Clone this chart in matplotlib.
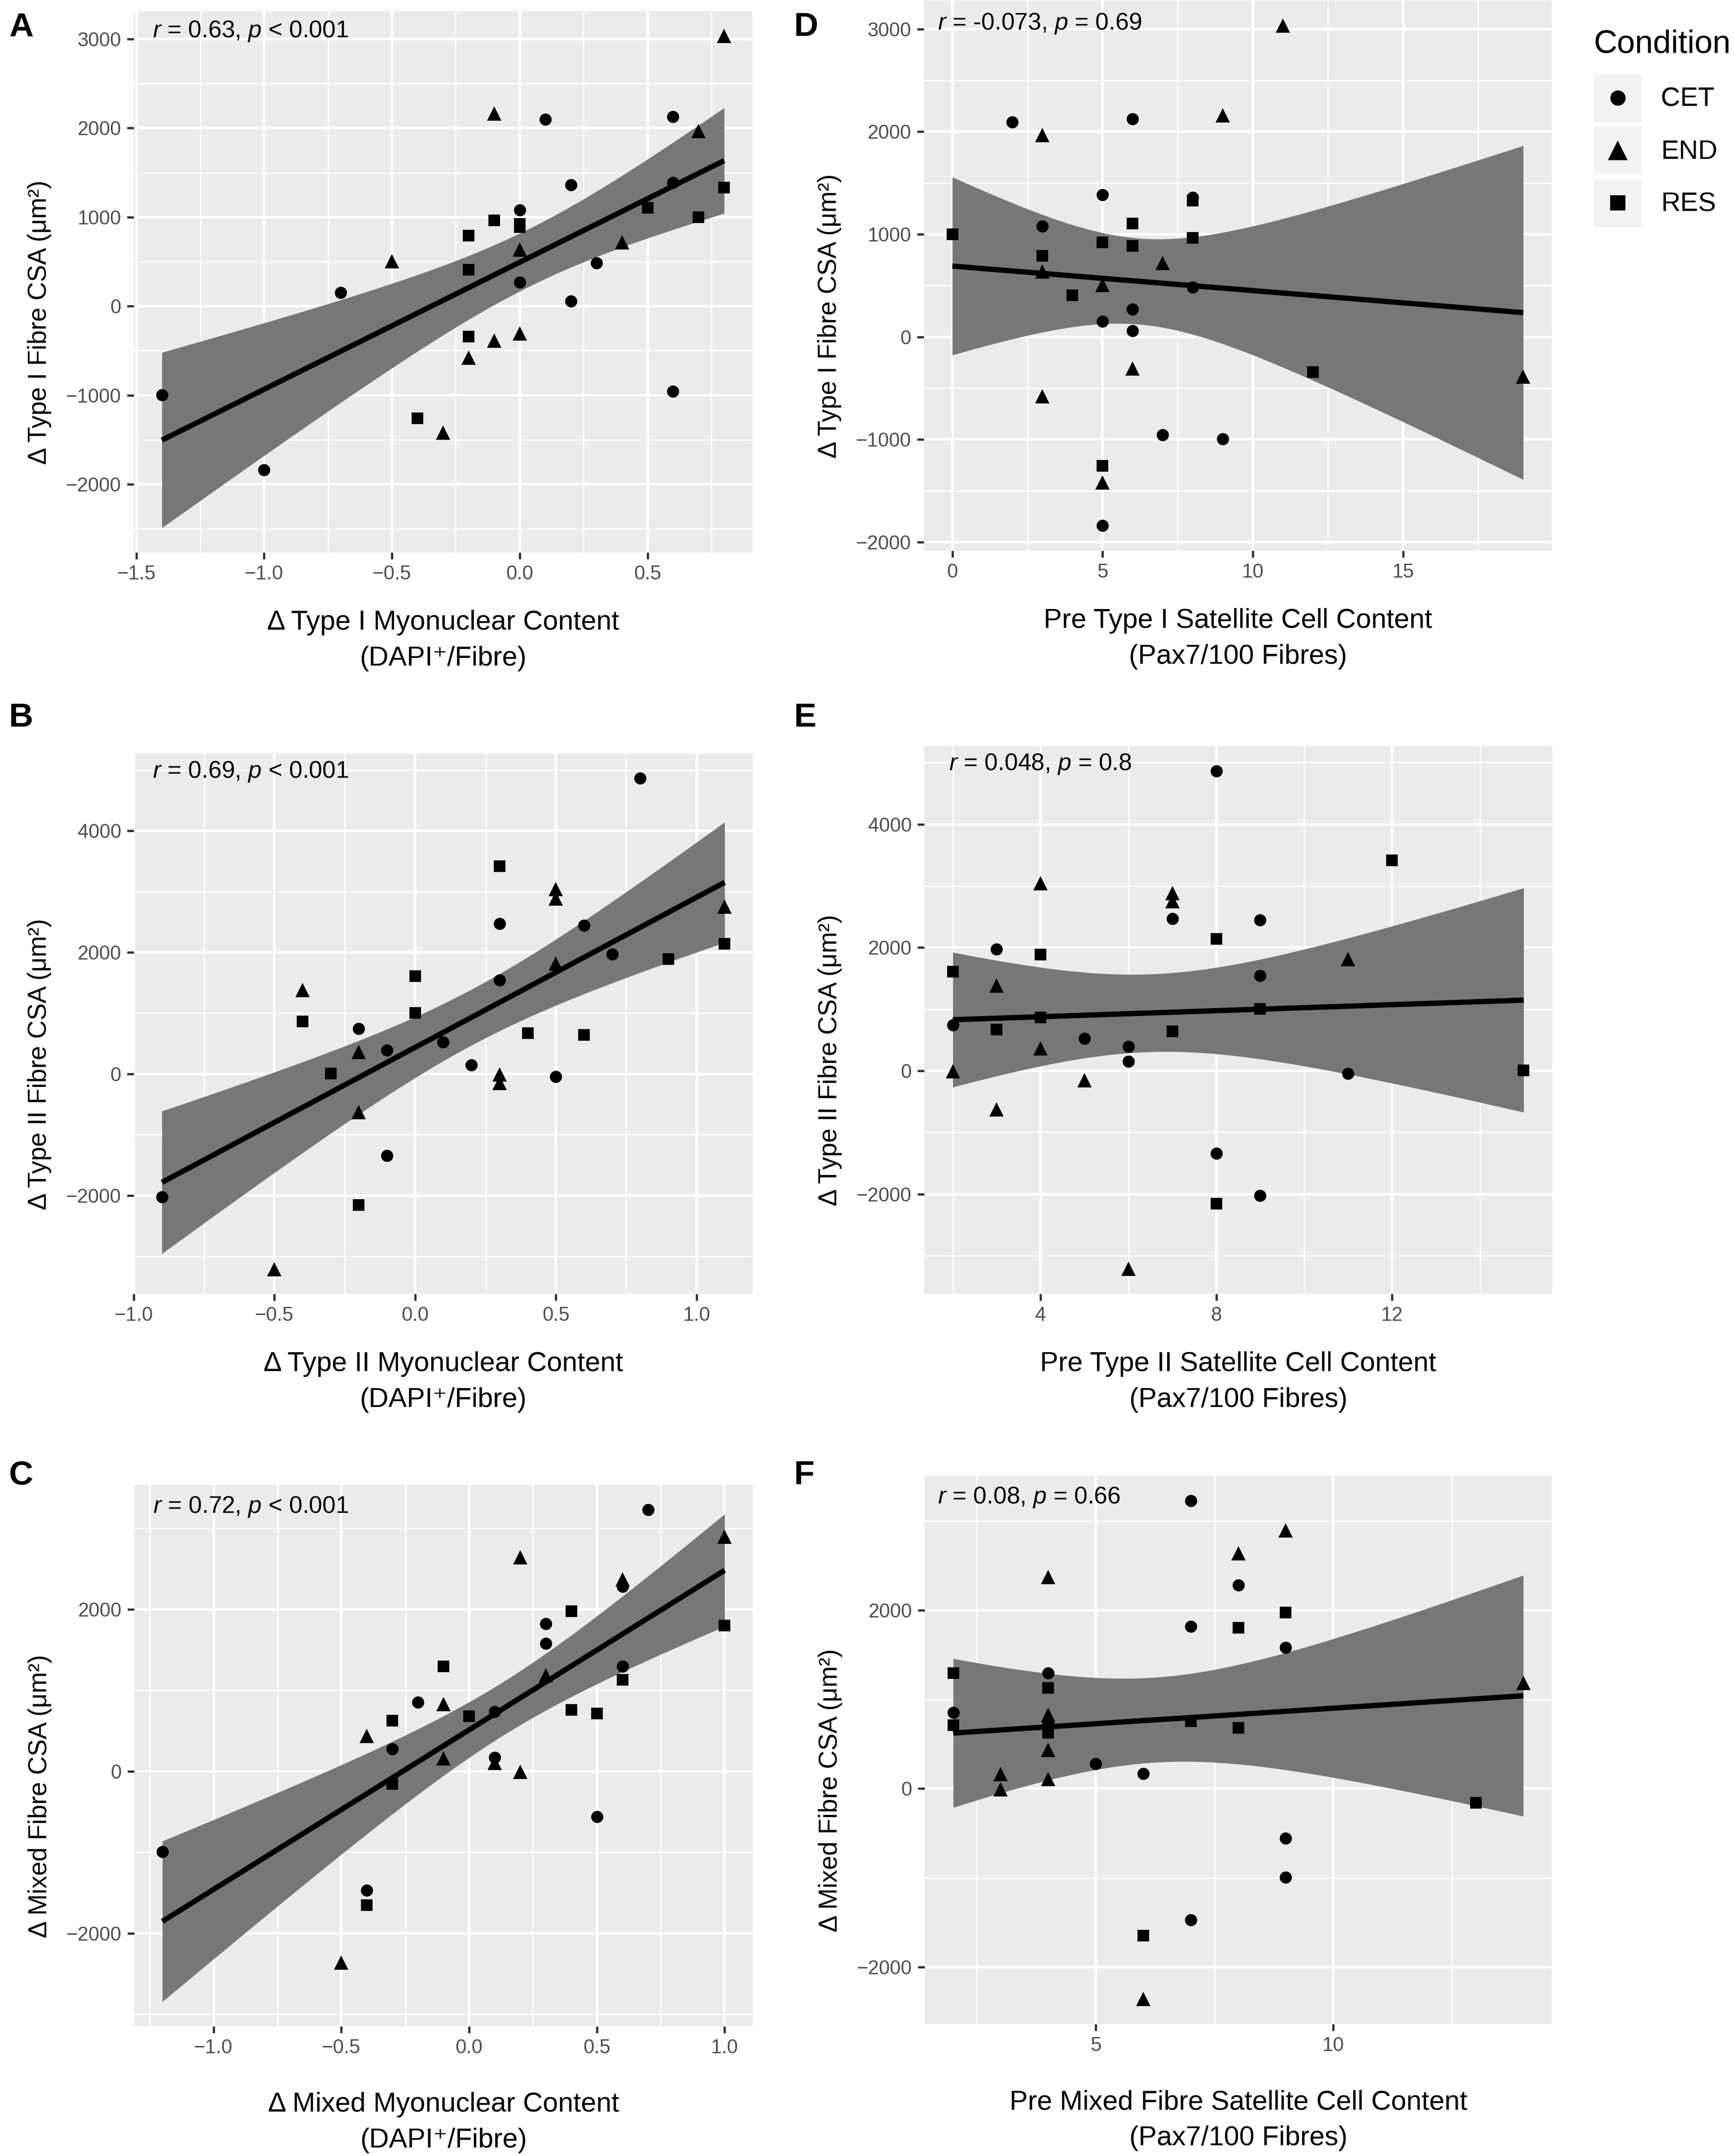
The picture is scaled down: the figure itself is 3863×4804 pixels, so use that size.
import numpy as np
import matplotlib
matplotlib.use("Agg")
import matplotlib.pyplot as plt
from matplotlib.ticker import MultipleLocator, FuncFormatter
from matplotlib.lines import Line2D
from matplotlib.patches import Rectangle
from matplotlib.legend_handler import HandlerBase

# ------------------------------------------------------------------ data
conditions = ["CET", "END", "RES"]

# Delta Type I fibre CSA (um^2)  -> panels A and D
typeI_csa_CET = [2095, 2125, 1360, 1385, 1080, 485, 268, 151, 59, -995, -955, -1840]
typeI_csa_END = [3035, 2160, 1965, 635, 718, 505, -385, -308, -580, -1420]
typeI_csa_RES = [1330, 1106, 999, 965, 922, 886, 790, 407, -342, -1257]
# Delta Type I myonuclear content (panel A x)
typeI_myo_CET = [0.1, 0.6, 0.2, 0.6, 0.0, 0.3, 0.0, -0.7, 0.2, -1.4, 0.6, -1.0]
typeI_myo_END = [0.8, -0.1, 0.7, 0.0, 0.4, -0.5, -0.1, 0.0, -0.2, -0.3]
typeI_myo_RES = [0.8, 0.5, 0.7, -0.1, 0.0, 0.0, -0.2, -0.2, -0.2, -0.4]
# Pre Type I satellite cell content (panel D x)
typeI_sc_CET = [2, 6, 8, 5, 3, 8, 6, 5, 6, 9, 7, 5]
typeI_sc_END = [11, 9, 3, 3, 7, 5, 19, 6, 3, 5]
typeI_sc_RES = [8, 6, 0, 8, 5, 6, 3, 4, 12, 5]

# Delta Type II fibre CSA -> panels B and E
typeII_csa_CET = [4867, 2471, 2445, 1970, 1543, 742, 393, 526, 149, -42, -1342, -2027]
typeII_csa_END = [3040, 2885, 2750, 1815, 1382, 362, -10, -150, -630, -3215]
typeII_csa_RES = [3418, 2137, 1887, 1607, 1001, 864, 673, 642, 5, -2158]
typeII_myo_CET = [0.8, 0.3, 0.6, 0.7, 0.3, -0.2, -0.1, 0.1, 0.2, 0.5, -0.1, -0.9]
typeII_myo_END = [0.5, 0.5, 1.1, 0.5, -0.4, -0.2, 0.3, 0.3, -0.2, -0.5]
typeII_myo_RES = [0.3, 1.1, 0.9, 0.0, 0.0, -0.4, 0.4, 0.6, -0.3, -0.2]
typeII_sc_CET = [8, 7, 9, 3, 9, 2, 6, 5, 6, 11, 8, 9]
typeII_sc_END = [4, 7, 7, 11, 3, 4, 2, 5, 3, 6]
typeII_sc_RES = [12, 8, 4, 2, 9, 4, 3, 7, 15, 8]

# Delta Mixed fibre CSA -> panels C and F
mixed_csa_CET = [3230, 2280, 1820, 1580, 1295, 853, 736, 276, 168, -560, -996, -1472]
mixed_csa_END = [2895, 2640, 2370, 1185, 828, 434, 160, 105, -8, -2362]
mixed_csa_RES = [1976, 1801, 1295, 1129, 757, 711, 680, 625, -158, -1652]
mixed_myo_CET = [0.7, 0.6, 0.3, 0.3, 0.6, -0.2, 0.1, -0.3, 0.1, 0.5, -1.2, -0.4]
mixed_myo_END = [1.0, 0.2, 0.6, 0.3, -0.1, -0.4, -0.1, 0.1, 0.2, -0.5]
mixed_myo_RES = [0.4, 1.0, -0.1, 0.6, 0.4, 0.5, 0.0, -0.3, -0.3, -0.4]
mixed_sc_CET = [7, 8, 7, 9, 4, 2, 4, 5, 6, 9, 9, 7]
mixed_sc_END = [9, 8, 4, 14, 4, 4, 3, 4, 3, 6]
mixed_sc_RES = [9, 8, 2, 4, 7, 2, 8, 4, 13, 6]

stat_labels = {
    "A": r"$\mathit{r}$ = 0.63, $\mathit{p}$ < 0.001",
    "B": r"$\mathit{r}$ = 0.69, $\mathit{p}$ < 0.001",
    "C": r"$\mathit{r}$ = 0.72, $\mathit{p}$ < 0.001",
    "D": r"$\mathit{r}$ = -0.073, $\mathit{p}$ = 0.69",
    "E": r"$\mathit{r}$ = 0.048, $\mathit{p}$ = 0.8",
    "F": r"$\mathit{r}$ = 0.08, $\mathit{p}$ = 0.66",
}
xlabels = {
    "A": "\u0394 Type I Myonuclear Content\n(DAPI\u207a/Fibre)",
    "B": "\u0394 Type II Myonuclear Content\n(DAPI\u207a/Fibre)",
    "C": "\u0394 Mixed Myonuclear Content\n(DAPI\u207a/Fibre)",
    "D": "Pre Type I Satellite Cell Content\n(Pax7/100 Fibres)",
    "E": "Pre Type II Satellite Cell Content\n(Pax7/100 Fibres)",
    "F": "Pre Mixed Fibre Satellite Cell Content\n(Pax7/100 Fibres)",
}
ylabels = {
    "A": "\u0394 Type I Fibre CSA (\u03bcm\u00b2)",
    "D": "\u0394 Type I Fibre CSA (\u03bcm\u00b2)",
    "B": "\u0394 Type II Fibre CSA (\u03bcm\u00b2)",
    "E": "\u0394 Type II Fibre CSA (\u03bcm\u00b2)",
    "C": "\u0394 Mixed Fibre CSA (\u03bcm\u00b2)",
    "F": "\u0394 Mixed Fibre CSA (\u03bcm\u00b2)",
}

# ------------------------------------------------------------------ style
W, H, DPI = 3863, 4804, 100
plt.rcParams["font.family"] = ["Liberation Sans", "DejaVu Sans"]
plt.rcParams["mathtext.fontset"] = "custom"
plt.rcParams["mathtext.rm"] = "Liberation Sans"
plt.rcParams["mathtext.it"] = "Liberation Sans:italic"
plt.rcParams["mathtext.bf"] = "Liberation Sans:bold"
plt.rcParams["axes.unicode_minus"] = True

PANEL_BG = "#EBEBEB"
RIBBON = "#787677"
MARKERS = {"CET": ("o", 19.5), "END": ("^", 23.5), "RES": ("s", 19.0)}
LEG_MARKERS = {"CET": ("o", 24.5), "END": ("^", 32.0), "RES": ("s", 24.5)}
T975 = {28: 2.0484, 29: 2.0452, 30: 2.0423, 31: 2.0395, 32: 2.0369}

fig = plt.figure(figsize=(W / DPI, H / DPI), dpi=DPI)
fig.patch.set_facecolor("white")


def fit_band(x, y, npts=80):
    x = np.asarray(x, float)
    y = np.asarray(y, float)
    n = len(x)
    xm, ym = x.mean(), y.mean()
    sxx = ((x - xm) ** 2).sum()
    b = ((x - xm) * (y - ym)).sum() / sxx
    a = ym - b * xm
    s = np.sqrt(((y - (a + b * x)) ** 2).sum() / (n - 2))
    xs = np.linspace(x.min(), x.max(), npts)
    fit = a + b * xs
    se = s * np.sqrt(1.0 / n + (xs - xm) ** 2 / sxx)
    t = T975.get(n - 2, 2.04)
    return xs, fit, fit - t * se, fit + t * se


def fmt(dec):
    def f(v, pos):
        if abs(v) < 1e-9:
            v = 0.0
        s = f"{v:.{dec}f}"
        return s.replace("-", "\u2212")
    return FuncFormatter(f)


# xlab = distance (px) from panel bottom to the baseline of the last x-title line
panels = [
    dict(letter="A", box=(298, 1676, 25, 1231),
         x=dict(CET=typeI_myo_CET, END=typeI_myo_END, RES=typeI_myo_RES),
         y=dict(CET=typeI_csa_CET, END=typeI_csa_END, RES=typeI_csa_RES),
         xstep=0.5, ystep=1000, xdec=1, stat=(0.0305, 0.952), xlab=252, let=(20, 81)),
    dict(letter="B", box=(298, 1677, 1679, 2883),
         x=dict(CET=typeII_myo_CET, END=typeII_myo_END, RES=typeII_myo_RES),
         y=dict(CET=typeII_csa_CET, END=typeII_csa_END, RES=typeII_csa_RES),
         xstep=0.5, ystep=2000, xdec=1, stat=(0.0305, 0.955), xlab=252, let=(20, 1619)),
    dict(letter="C", box=(299, 1677, 3309, 4515),
         x=dict(CET=mixed_myo_CET, END=mixed_myo_END, RES=mixed_myo_RES),
         y=dict(CET=mixed_csa_CET, END=mixed_csa_END, RES=mixed_csa_RES),
         xstep=0.5, ystep=2000, xdec=1, stat=(0.0305, 0.949), xlab=270, let=(20, 3307)),
    dict(letter="D", box=(2058, 3457, 1, 1227),
         x=dict(CET=typeI_sc_CET, END=typeI_sc_END, RES=typeI_sc_RES),
         y=dict(CET=typeI_csa_CET, END=typeI_csa_END, RES=typeI_csa_RES),
         xstep=5, ystep=1000, xdec=0, stat=(0.022, 0.947), xlab=252, let=(1769, 80)),
    dict(letter="E", box=(2059, 3458, 1662, 2883),
         x=dict(CET=typeII_sc_CET, END=typeII_sc_END, RES=typeII_sc_RES),
         y=dict(CET=typeII_csa_CET, END=typeII_csa_END, RES=typeII_csa_RES),
         xstep=4, ystep=2000, xdec=0, stat=(0.039, 0.956), xlab=252, let=(1769, 1619)),
    dict(letter="F", box=(2060, 3457, 3288, 4510),
         x=dict(CET=mixed_sc_CET, END=mixed_sc_END, RES=mixed_sc_RES),
         y=dict(CET=mixed_csa_CET, END=mixed_csa_END, RES=mixed_csa_RES),
         xstep=5, ystep=2000, xdec=0, stat=(0.021, 0.949), xlab=270, let=(1769, 3307)),
]

for p in panels:
    L, R, T, B = p["box"]
    wpx, hpx = R - L, B - T
    ax = fig.add_axes([L / W, 1 - B / H, wpx / W, hpx / H])
    ax.set_facecolor(PANEL_BG)
    for sp in ax.spines.values():
        sp.set_visible(False)

    xa = np.concatenate([np.asarray(p["x"][c], float) for c in conditions])
    ya = np.concatenate([np.asarray(p["y"][c], float) for c in conditions])
    xs, fit, lo, hi = fit_band(xa, ya)
    ax.fill_between(xs, lo, hi, color=RIBBON, lw=0, zorder=2)
    ax.plot(xs, fit, color="black", lw=8.5, zorder=3, solid_capstyle="butt")
    for c in conditions:
        m, ms = MARKERS[c]
        ax.plot(p["x"][c], p["y"][c], ls="none", marker=m, ms=ms, mew=0,
                color="black", zorder=4)

    x0, x1 = xa.min(), xa.max()
    dx = 0.05 * (x1 - x0)
    y0 = min(ya.min(), lo.min())
    y1 = max(ya.max(), hi.max())
    dy = 0.05 * (y1 - y0)
    ax.set_xlim(x0 - dx, x1 + dx)
    ax.set_ylim(y0 - dy, y1 + dy)

    ax.xaxis.set_major_locator(MultipleLocator(p["xstep"]))
    ax.xaxis.set_minor_locator(MultipleLocator(p["xstep"] / 2))
    ax.yaxis.set_major_locator(MultipleLocator(p["ystep"]))
    ax.yaxis.set_minor_locator(MultipleLocator(p["ystep"] / 2))
    ax.xaxis.set_major_formatter(fmt(p["xdec"]))
    ax.yaxis.set_major_formatter(fmt(0))
    ax.set_axisbelow(True)
    ax.grid(which="major", color="white", lw=4.0)
    ax.grid(which="minor", color="white", lw=2.0)
    ax.tick_params(which="major", direction="out", length=10.8, width=3.6,
                   color="#333333", labelsize=31.5, labelcolor="#4D4D4D", pad=9.4)
    ax.tick_params(which="minor", length=0)

    ax.text(p["stat"][0], p["stat"][1], stat_labels[p["letter"]], transform=ax.transAxes,
            fontsize=38.5, ha="left", va="baseline", color="black", zorder=5)

    ax.set_xlabel(xlabels[p["letter"]], fontsize=44, linespacing=1.52)
    ax.xaxis.set_label_coords(0.5, -p["xlab"] / hpx)
    ax.xaxis.label.set_va("baseline")
    ax.set_ylabel(ylabels[p["letter"]], fontsize=41)
    ax.yaxis.set_label_coords(-195 / wpx, 0.5 - 90 / hpx)
    ax.yaxis.label.set_va("baseline")

    lx, ly = p["let"]
    fig.text(lx / W, 1 - ly / H, p["letter"], fontsize=54, fontweight="bold",
             ha="left", va="baseline")


# ------------------------------------------------------------------ legend
class KeyHandler(HandlerBase):
    def create_artists(self, legend, orig_handle, xdescent, ydescent,
                       width, height, fontsize, trans):
        rect = Rectangle((-xdescent, -ydescent), width, height,
                         facecolor="#F2F2F2", edgecolor="none", transform=trans)
        cx = -xdescent + width / 2.0
        cy = -ydescent + height / 2.0
        mk = Line2D([cx], [cy], ls="none", marker=orig_handle.get_marker(),
                    ms=orig_handle.get_markersize(), mew=0, color="black",
                    transform=trans)
        return [rect, mk]


handles = [Line2D([], [], ls="none", marker=LEG_MARKERS[c][0], ms=LEG_MARKERS[c][1],
                  color="black", mew=0) for c in conditions]
LEG_FS = 43.0
key_pt = 107 * 72.0 / DPI
hl = key_pt / LEG_FS
hh = (key_pt / LEG_FS - 0.245) / 0.65
leg = fig.legend(handles, conditions, loc="upper left",
                 bbox_to_anchor=(3550 / W, 1 - 165 / H), frameon=False,
                 fontsize=LEG_FS, handlelength=hl, handleheight=hh,
                 handletextpad=(43 * 72.0 / DPI) / LEG_FS,
                 labelspacing=(10 * 72.0 / DPI) / LEG_FS,
                 borderpad=0, borderaxespad=0,
                 handler_map={Line2D: KeyHandler()})
fig.text(3550 / W, 1 - 117 / H, "Condition", fontsize=52, ha="left", va="baseline")

fig.savefig("out.png", dpi=DPI, facecolor="white")
